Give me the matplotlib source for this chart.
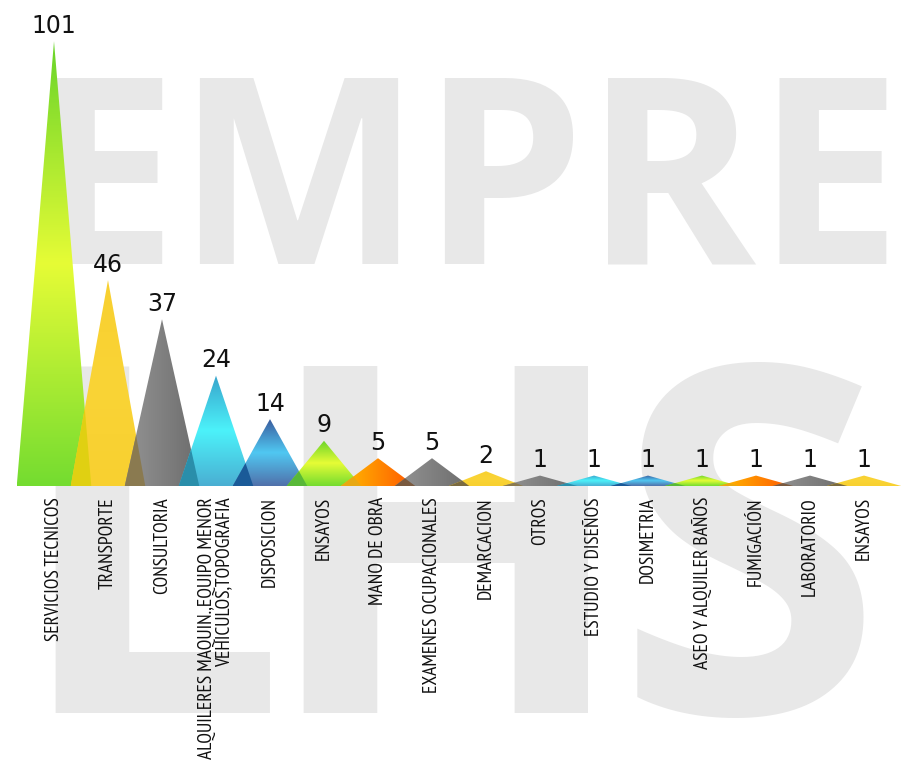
import numpy as np
import matplotlib
matplotlib.use("Agg")
import matplotlib.pyplot as plt
from matplotlib import font_manager as fm
from matplotlib.colors import LinearSegmentedColormap
from matplotlib.patches import Polygon
from matplotlib.textpath import TextPath
from matplotlib.transforms import ScaledTranslation

# datos
categorias = ['SERVICIOS TECNICOS', 'TRANSPORTE', 'CONSULTORIA',
              'ALQUILERES MAQUIN.,EQUIPO MENOR\nVEHICULOS,TOPOGRAFIA',
              'DISPOSICION', 'ENSAYOS', 'MANO DE OBRA', 'EXAMENES OCUPACIONALES',
              'DEMARCACION', 'OTROS', 'ESTUDIO Y DISEÑOS', 'DOSIMETRIA',
              'ASEO Y ALQUILER BAÑOS', 'FUMIGACIÓN', 'LABORATORIO', 'ENSAYOS']
valores = [101, 46, 37, 24, 14, 9, 5, 5, 2, 1, 1, 1, 1, 1, 1, 1]

# estilo de cada piramide
esquemas = ['verde', 'amarillo', 'gris', 'cian', 'azul', 'verde', 'naranja', 'gris',
            'amarillo', 'gris', 'cian', 'azul', 'verde', 'naranja', 'gris', 'amarillo']
gradientes = {
    'verde':    ('v', ['#74dc30', '#e6fc36', '#68d42a']),
    'amarillo': ('v', ['#f8d030', '#fad436', '#f8d030']),
    'gris':     ('h', ['#949494', '#6c6c6c']),
    'cian':     ('v', ['#4aaed2', '#4cf2fa', '#38a4cc']),
    'azul':     ('v', ['#5070aa', '#50c8f2', '#3a5c9e']),
    'naranja':  ('h', ['#ffbc00', '#ff5600']),
}
solape = {
    ('verde', 'amarillo'): '#e0d012',
    ('amarillo', 'gris'): '#8a7a50',
    ('gris', 'cian'): '#2a8eaa',
    ('cian', 'azul'): '#1a5a98',
    ('azul', 'verde'): '#58b838',
    ('verde', 'naranja'): '#e8a812',
    ('naranja', 'gris'): '#7a5a40',
    ('gris', 'amarillo'): '#7a6a40',
}

HW = 0.69      # media base de cada piramide
BASE = -1.4    # suelo del grafico
GRIS_MARCA = '#e8e8e8'
W, H, DPI = 901, 762, 100

fig = plt.figure(figsize=(W / DPI, H / DPI), dpi=DPI)

# marca de agua de fondo (alineada por la tinta de cada letra)
prop_marca = fm.FontProperties(family='Open Sans', weight='bold')


def marca(txt, izq_px, base_px, size):
    ext = TextPath((0, 0), txt, size=size, prop=prop_marca).get_extents()
    x0 = izq_px - ext.x0 * DPI / 72
    fig.text(x0 / W, 1 - base_px / H, txt, fontproperties=prop_marca, fontsize=size,
             color=GRIS_MARCA, ha='left', va='baseline', zorder=0)


marca('EMPRE', 55, 263, 187)
marca('L', 55, 713, 350)
marca('H', 303, 713, 350)
marca('S', 637, 713, 350)

# fuente de las categorias
narrow = [f.fname for f in fm.fontManager.ttflist if 'PT_Sans-Narrow-Web-Regular' in f.fname]
if narrow:
    prop_cat = fm.FontProperties(fname=narrow[0], size=14)
else:
    prop_cat = fm.FontProperties(family='DejaVu Sans', stretch='condensed', size=10)

left_px = 54 - 0.7 * 54
ax = fig.add_axes([left_px / W, 1 - 486 / H, 16.4 * 54 / W, 486 / H], zorder=1)
ax.patch.set_alpha(0)

x = np.arange(len(valores))
for i, v in enumerate(valores):
    tipo, cols = gradientes[esquemas[i]]
    cmap = LinearSegmentedColormap.from_list('g%d' % i, cols)
    grad = np.linspace(0, 1, 256)
    if tipo == 'v':
        img = grad.reshape(-1, 1)
    else:
        img = grad.reshape(1, -1)
    tri = Polygon([(i - HW, BASE), (i, v), (i + HW, BASE)], closed=True,
                  facecolor='none', edgecolor='none', transform=ax.transData)
    ax.add_patch(tri)
    im = ax.imshow(img, cmap=cmap, extent=[i - HW, i + HW, BASE, v], origin='lower',
                   aspect='auto', interpolation='bilinear', zorder=2)
    im.set_clip_path(tri)

# zonas donde se solapan piramides vecinas
for i in range(len(valores) - 1):
    h1 = valores[i] - BASE
    h2 = valores[i + 1] - BASE
    u = (2 * HW - 1) / (HW * (1 / h1 + 1 / h2))
    xi = i + HW * (1 - u / h1)
    col = solape.get((esquemas[i], esquemas[i + 1]), '#808080')
    ax.add_patch(Polygon([(i + 1 - HW, BASE), (xi, BASE + u), (i + HW, BASE)],
                         closed=True, facecolor=col, edgecolor='none', zorder=3))

# etiquetas de valor
for i, v in enumerate(valores):
    ax.annotate(str(v), (i, v), xytext=(0, 6), textcoords='offset points',
                ha='center', va='baseline', fontsize=17, family='DejaVu Sans',
                color='#111111', zorder=4)

ax.set_xlim(-0.7, 15.7)
ax.set_ylim(BASE, BASE + 486 / 4.343)
ax.set_xticks(x)
ax.set_xticklabels(categorias, rotation=90, va='top', ha='center',
                   fontproperties=prop_cat, color='#111111', linespacing=0.95)
for lab in ax.get_xticklabels():
    lab.set_multialignment('right')
    if '\n' in lab.get_text():
        lab.set_transform(lab.get_transform() + ScaledTranslation(8 / DPI, 0, fig.dpi_scale_trans))
ax.tick_params(axis='x', length=0, pad=8)
ax.set_yticks([])
for s in ax.spines.values():
    s.set_visible(False)

fig.savefig('out.png', dpi=DPI)
